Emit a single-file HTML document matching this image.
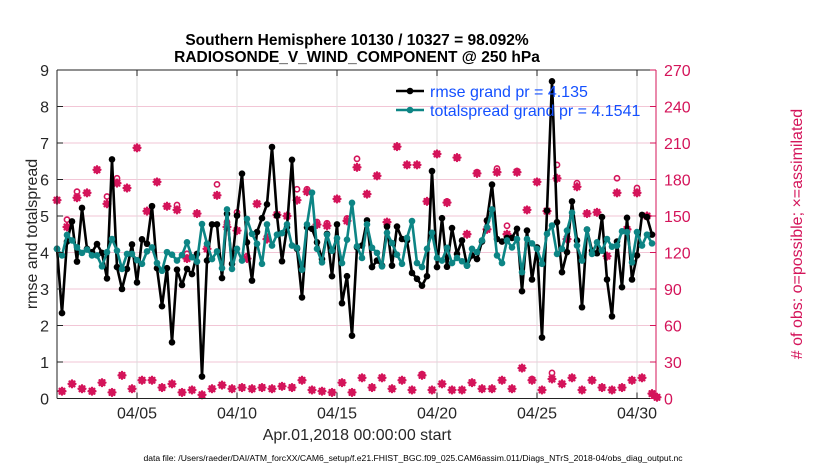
<!DOCTYPE html>
<html><head><meta charset="utf-8"><style>
body{margin:0;background:#fff;width:830px;height:470px;overflow:hidden}
svg{display:block;font-family:"Liberation Sans",sans-serif}
</style></head><body>
<svg id="chart" width="830" height="470"></svg>
<script>
const rmse=[4.10,2.34,4.30,4.85,3.75,5.22,4.10,4.01,4.23,3.99,3.29,6.55,3.60,3.00,3.55,4.22,3.18,4.36,4.24,5.27,3.57,2.53,3.57,1.54,3.53,3.11,3.55,3.41,3.96,0.60,3.78,4.77,4.77,3.30,5.06,3.69,5.01,6.16,4.28,3.23,4.56,4.94,
5.32,6.89,5.01,3.76,4.69,6.54,4.10,2.77,4.69,4.65,4.28,3.82,4.51,3.35,4.77,2.61,3.35,1.72,4.14,4.19,4.88,3.60,3.78,3.64,4.71,3.64,4.71,4.37,4.33,3.44,3.28,3.09,3.35,6.23,3.60,4.94,3.61,4.67,3.96,4.33,
3.64,3.92,3.82,4.30,4.88,5.86,4.37,4.30,4.40,4.40,4.65,2.94,4.60,3.26,4.14,1.67,5.15,8.69,4.83,3.46,4.01,5.40,4.33,2.50,4.63,4.05,3.98,4.97,3.26,2.25,4.30,3.05,4.95,3.26,3.92,5.03,4.97,4.49];
const spread=[4.10,3.92,4.48,4.33,4.14,3.99,4.08,3.92,3.92,3.62,4.01,4.37,4.05,3.55,3.96,3.96,3.79,3.69,4.03,4.14,3.71,3.50,4.01,3.94,3.78,3.93,4.28,3.87,3.75,4.78,4.24,3.82,4.03,3.57,5.18,3.55,4.10,3.78,4.92,4.51,4.24,3.69,
4.77,4.19,4.49,4.53,4.77,4.19,4.13,3.53,4.77,5.64,4.10,3.73,4.49,4.05,4.39,3.71,4.35,5.36,4.17,3.85,4.77,4.13,3.99,3.62,4.54,4.26,3.94,3.69,4.40,4.86,3.71,3.60,4.10,4.54,3.85,3.78,4.13,3.71,3.85,3.76,
3.64,4.10,4.01,4.33,4.69,5.18,3.92,3.71,4.33,4.14,4.37,3.46,4.37,4.25,4.10,3.69,4.51,4.74,3.96,4.10,4.60,5.09,4.19,3.78,4.63,3.96,4.28,4.05,4.37,4.16,4.19,4.58,4.56,3.73,4.56,4.19,4.49,4.25];
const nAssim=[163,6,141,12,165,8,169,6,188,13,160,5,177,19,173,8,206,15,154,15,178,9,158,12,155,5,115,7,152,3,123,8,167,11,141,8,138,9,115,8,160,9,
131,8,151,10,150,9,163,15,170,7,143,6,142,5,164,13,146,5,190,17,168,9,183,17,145,8,207,15,192,7,192,19,162,7,201,12,161,7,198,7,
135,13,185,8,139,8,186,15,135,8,186,25,155,15,178,7,154,16,181,12,131,17,174,7,152,15,153,9,117,7,169,9,139,15,169,17,150,4,1];
const nPoss=[163,6,147,12,170,8,169,6,188,13,166,5,181,19,173,8,206,15,154,15,178,9,158,12,159,5,119,7,152,3,123,8,176,11,145,8,153,9,117,8,160,9,
133,8,151,10,150,9,172,15,172,7,145,6,144,5,164,13,148,5,197,17,168,9,183,17,145,8,207,15,192,7,192,20,162,7,201,12,162,7,198,7,
135,13,186,8,146,8,189,15,142,8,187,25,155,16,178,7,154,21,192,12,131,17,177,7,152,15,153,9,117,7,181,9,139,15,173,17,150,4,1];
const xTickDays=[4,9,14,19,24,29];
const xTickLabels=['04/05','04/10','04/15','04/20','04/25','04/30'];
const yLeftTicks=[0,1,2,3,4,5,6,7,8,9];
const yRightTicks=[0,30,60,90,120,150,180,210,240,270];

const NS='http://www.w3.org/2000/svg';
const svg=document.getElementById('chart');
const L=57,R=656,T=70,B=398.5;
const xs=d=>L+(d-0)*(R-L)/29.95;
const yl=v=>B-v*(B-T)/9;
const yr=v=>B-v*(B-T)/270;
const RED='#d4145a',TEAL='#0d8585';
function mk(tag,attrs,parent){const e=document.createElementNS(NS,tag);for(const k in attrs)e.setAttribute(k,attrs[k]);(parent||svg).appendChild(e);return e;}

const grid=mk('g',{});


yRightTicks.forEach(v=>{if(v>0&&v<270)mk('line',{x1:L,x2:R,y1:yr(v),y2:yr(v),stroke:'#f2c6d6','stroke-width':1},grid);});
xTickDays.forEach(d=>mk('line',{x1:xs(d),x2:xs(d),y1:T,y2:B,stroke:'#dcdcdc','stroke-width':1},grid));

const obs=mk('g',{});


nAssim.forEach((v,i)=>{
  const x=xs(i*0.25),y=yr(v);
  const g=mk('g',{stroke:RED,'stroke-width':2.4,'stroke-linecap':'round'},obs);
  
  
  const s=3.4;
  mk('line',{x1:x-s,x2:x+s,y1:y,y2:y},g);
  mk('line',{x1:x,x2:x,y1:y-s,y2:y+s},g);
  mk('line',{x1:x-s+1,x2:x+s-1,y1:y-s+1,y2:y+s-1},g);
  mk('line',{x1:x-s+1,x2:x+s-1,y1:y+s-1,y2:y-s+1},g);
});
nPoss.forEach((v,i)=>{
  const c=mk('circle',{cx:xs(i*0.25),cy:yr(v),r:2.6,fill:'none',stroke:RED,'stroke-width':1.6},obs);
  
  
});

function series(data,color,name){
  const g=mk('g',{});
  
  
  mk('polyline',{points:data.map((v,i)=>xs(i*0.25)+','+yl(v)).join(' '),fill:'none',stroke:color,'stroke-width':2.6,'stroke-linejoin':'round'},g);
  data.forEach((v,i)=>{const c=mk('circle',{cx:xs(i*0.25),cy:yl(v),r:3.3,fill:color},g);
    
    });
}
series(rmse,'#000','rmse-series');
series(spread,TEAL,'totalspread-series');

const ax=mk('g',{});


mk('line',{x1:L,x2:L,y1:T,y2:B,stroke:'#222','stroke-width':1},ax);
mk('line',{x1:L,x2:R,y1:T,y2:T,stroke:'#222','stroke-width':1},ax);
mk('line',{x1:L,x2:R,y1:B,y2:B,stroke:'#222','stroke-width':1},ax);
mk('line',{x1:R,x2:R,y1:T,y2:B,stroke:RED,'stroke-width':1},ax);
yLeftTicks.forEach(v=>{
  mk('line',{x1:L,x2:L+6,y1:yl(v),y2:yl(v),stroke:'#222'},ax);
  const t=mk('text',{x:L-8,y:yl(v)+6,'text-anchor':'end','font-size':16,fill:'#262626'},ax);t.textContent=v;
  
  
});
yRightTicks.forEach(v=>{
  mk('line',{x1:R-6,x2:R,y1:yr(v),y2:yr(v),stroke:RED},ax);
  const t=mk('text',{x:R+8,y:yr(v)+6,'font-size':16,fill:RED},ax);t.textContent=v;
  
  
});
xTickDays.forEach((d,i)=>{
  mk('line',{x1:xs(d),x2:xs(d),y1:B,y2:B-6,stroke:'#222'},ax);
  mk('line',{x1:xs(d),x2:xs(d),y1:T,y2:T+6,stroke:'#222'},ax);
  const t=mk('text',{x:xs(d),y:B+20,'text-anchor':'middle','font-size':16,fill:'#262626'},ax);t.textContent=xTickLabels[i];
  
  
});
</script>
<svg width="830" height="470" style="position:absolute;left:0;top:0;font-family:'Liberation Sans',sans-serif">
<text x="357" y="45" text-anchor="middle" font-size="15.5" font-weight="bold" fill="#000">Southern Hemisphere 10130 / 10327 = 98.092%</text>
<text x="357" y="62" text-anchor="middle" font-size="15.5" font-weight="bold" fill="#000">RADIOSONDE_V_WIND_COMPONENT @ 250 hPa</text>
<text transform="translate(37,234) rotate(-90)" text-anchor="middle" font-size="16" fill="#262626">rmse and totalspread</text>
<text transform="translate(802,234) rotate(-90)" text-anchor="middle" font-size="16" fill="#d4145a"># of obs: o=possible; ×=assimilated</text>
<text x="357" y="440" text-anchor="middle" font-size="16" fill="#262626">Apr.01,2018 00:00:00 start</text>
<text x="413" y="461" text-anchor="middle" font-size="8.6" fill="#000">data file: /Users/raeder/DAI/ATM_forcXX/CAM6_setup/f.e21.FHIST_BGC.f09_025.CAM6assim.011/Diags_NTrS_2018-04/obs_diag_output.nc</text>
<g>
<line x1="396" x2="424" y1="91" y2="91" stroke="#000" stroke-width="2.6"/><circle cx="410" cy="91" r="3.3" fill="#000"/>
<text x="430" y="97" font-size="16" fill="#1450ff">rmse grand pr = 4.135</text>
<line x1="396" x2="424" y1="110" y2="110" stroke="#0d8585" stroke-width="2.6"/><circle cx="410" cy="110" r="3.3" fill="#0d8585"/>
<text x="430" y="116" font-size="16" fill="#1450ff">totalspread grand pr = 4.1541</text>
</g>
</svg>
</body></html>
